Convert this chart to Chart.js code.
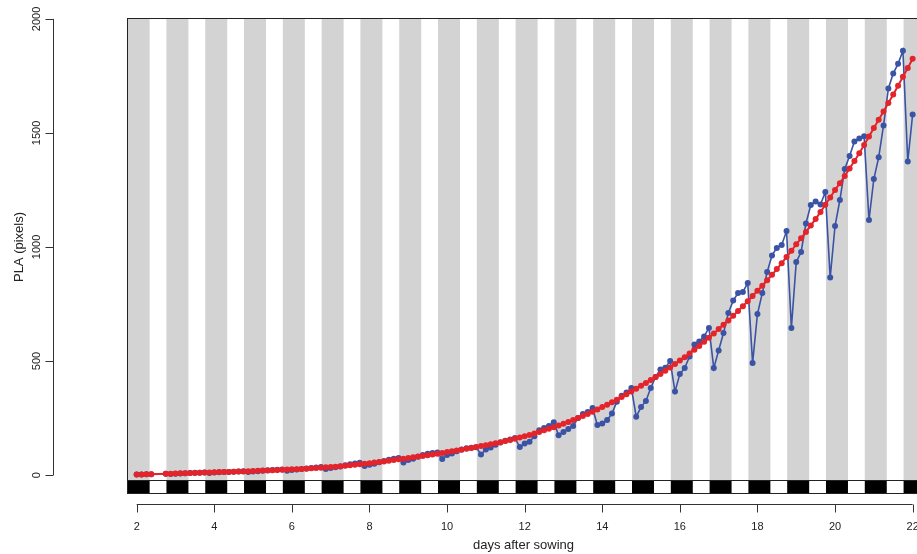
<!DOCTYPE html>
<html>
<head>
<meta charset="utf-8">
<title>PLA growth</title>
<script src="https://cdn.jsdelivr.net/npm/chart.js@4"></script>
<style>
  html, body { margin: 0; padding: 0; overflow: hidden; background: #fff; }
  #wrap { width: 924px; height: 554px; }
</style>
</head>
<body>
<div id="wrap"><canvas id="pla"></canvas></div>
<script>
// sampling: one image every 3 h, starting at day 2 (null = no image)
const startDay = 2;
const stepDays = 3 / 24;

// measured projected leaf area, one row per day (8 images)
const measuredPLA = [
  3, 3, 4, 4, null, null, 6, 5,
  6, 7, 8, 9, 10, 10, 11, 9,
  11, 12, 13, 14, 15, 16, 17, 14,
  16, 17, 19, 21, 22, 23, 24, 19,
  22, 24, 27, 29, 31, 33, 35, 27,
  31, 34, 38, 43, 47, 51, 54, 40,
  45, 50, 56, 62, 67, 72, 75, 55,
  66, 72, 80, 88, 94, 97, 99, 70,
  88, 95, 104, 112, 118, 120, 122, 90,
  112, 121, 133, 143, 150, 156, 162, 123,
  138, 146, 170, 196, 206, 215, 232, 175,
  189, 202, 215, 250, 268, 276, 294, 219,
  226, 241, 270, 322, 348, 362, 382, 256,
  298, 325, 382, 430, 463, 471, 500, 366,
  443, 469, 520, 572, 586, 608, 645, 469,
  546, 623, 711, 765, 798, 803, 842, 491,
  706, 798, 890, 963, 996, 1009, 1070, 645,
  934, 978, 1103, 1184, 1200, 1186, 1241, 866,
  1092, 1206, 1342, 1399, 1463, 1476, 1485, 1118,
  1298, 1393, 1533, 1695, 1761, 1803, 1860, 1375,
  1581
];

// fitted growth curve at the same times
const fittedPLA = [
  3, 3, 4, 4, null, null, 6, 6,
  7, 8, 8, 9, 9, 10, 11, 11,
  12, 13, 13, 14, 15, 16, 16, 17,
  18, 19, 20, 20, 21, 22, 23, 24,
  25, 26, 27, 28, 30, 31, 32, 34,
  35, 37, 39, 41, 43, 45, 47, 50,
  52, 55, 57, 60, 63, 66, 69, 72,
  75, 78, 81, 84, 87, 90, 94, 97,
  101, 104, 108, 111, 115, 119, 123, 127,
  131, 135, 140, 144, 149, 154, 159, 165,
  170, 176, 182, 189, 196, 203, 210, 217,
  225, 233, 241, 250, 259, 268, 278, 288,
  298, 308, 319, 330, 342, 354, 366, 379,
  392, 404, 417, 430, 443, 457, 472, 487,
  502, 517, 533, 550, 566, 584, 602, 621,
  640, 659, 678, 698, 719, 740, 762, 785,
  808, 830, 854, 878, 903, 929, 956, 983,
  1012, 1038, 1066, 1094, 1123, 1153, 1185, 1217,
  1250, 1280, 1311, 1344, 1377, 1411, 1447, 1484,
  1522, 1558, 1594, 1631, 1669, 1707, 1746, 1785,
  1825
];

const xTicks = [2, 4, 6, 8, 10, 12, 14, 16, 18, 20, 22];
const yTicks = [0, 500, 1000, 1500, 2000];

// light regime (hour of day)
const lightsOffHour = 18.4;
const lightsOnHour = 8.0;

const toPoints = vals => vals.map((v, i) => ({ x: startDay + i * stepDays, y: v }));

Chart.defaults.font.family = "'Liberation Sans', Arial, sans-serif";
Chart.defaults.color = '#222';

const rStyle = {
  id: 'rStyle',
  beforeDatasetsDraw(chart) {
    const { ctx, chartArea: a, scales: { x } } = chart;
    const barTop = a.bottom - 14;
    ctx.save();
    for (let d = Math.floor(x.min); d <= Math.ceil(x.max) + 1; d++) {
      const x0 = Math.max(a.left, x.getPixelForValue(d - 1 + lightsOffHour / 24));
      const x1 = Math.min(a.right, x.getPixelForValue(d + lightsOnHour / 24));
      if (x1 <= x0) continue;
      ctx.fillStyle = '#d3d3d3';
      ctx.fillRect(x0, a.top, x1 - x0, barTop - a.top);
      ctx.fillStyle = '#000';
      ctx.fillRect(x0, barTop, x1 - x0, a.bottom - barTop);
    }
    ctx.strokeStyle = '#222';
    ctx.lineWidth = 1;
    ctx.beginPath();
    ctx.moveTo(a.left, barTop + 0.5);
    ctx.lineTo(a.right, barTop + 0.5);
    ctx.stroke();
    ctx.strokeRect(a.left + 0.5, a.top + 0.5, a.right - a.left + 10, a.bottom - a.top - 1);
    ctx.restore();
  },
  afterDraw(chart) {
    const { ctx, chartArea: a, scales: { x, y } } = chart;
    ctx.save();
    ctx.strokeStyle = '#333';
    ctx.fillStyle = '#222';
    ctx.lineWidth = 1;

    // y axis, detached to the left
    const ax = 53.5;
    const yLo = y.getPixelForValue(yTicks[0]);
    const yHi = y.getPixelForValue(yTicks[yTicks.length - 1]);
    ctx.beginPath();
    ctx.moveTo(ax, yLo);
    ctx.lineTo(ax, yHi);
    yTicks.forEach(v => {
      const py = Math.round(y.getPixelForValue(v)) + 0.5;
      ctx.moveTo(ax, py);
      ctx.lineTo(ax - 8, py);
    });
    ctx.stroke();
    ctx.font = "11px 'Liberation Sans', Arial, sans-serif";
    ctx.textAlign = 'center';
    ctx.textBaseline = 'middle';
    yTicks.forEach(v => {
      ctx.save();
      ctx.translate(37, y.getPixelForValue(v));
      ctx.rotate(-Math.PI / 2);
      ctx.fillText(String(v), 0, 0);
      ctx.restore();
    });
    ctx.font = "13px 'Liberation Sans', Arial, sans-serif";
    ctx.save();
    ctx.translate(19, (yLo + yHi) / 2);
    ctx.rotate(-Math.PI / 2);
    ctx.fillText('PLA (pixels)', 0, 0);
    ctx.restore();

    // x axis line, below the light bar
    const ay = a.bottom + 10.5;
    ctx.beginPath();
    ctx.moveTo(x.getPixelForValue(xTicks[0]), ay);
    ctx.lineTo(x.getPixelForValue(xTicks[xTicks.length - 1]), ay);
    xTicks.forEach(v => {
      const px = Math.round(x.getPixelForValue(v)) + 0.5;
      ctx.moveTo(px, ay);
      ctx.lineTo(px, ay + 8);
    });
    ctx.stroke();
    ctx.restore();
  }
};

new Chart(document.getElementById('pla'), {
  type: 'line',
  data: {
    datasets: [
      {
        label: 'fitted',
        data: toPoints(fittedPLA),
        borderColor: '#e3242b',
        backgroundColor: '#e3242b',
        borderWidth: 2,
        pointRadius: 3,
        pointBorderWidth: 0,
        spanGaps: true
      },
      {
        label: 'measured',
        data: toPoints(measuredPLA),
        borderColor: '#3a53a4',
        backgroundColor: '#3a53a4',
        borderWidth: 1.6,
        pointRadius: 3,
        pointBorderWidth: 0,
        spanGaps: true
      }
    ]
  },
  options: {
    responsive: true,
    maintainAspectRatio: false,
    animation: false,
    layout: { padding: { left: 127, top: 18, right: 0, bottom: 0 } },
    plugins: { legend: { display: false }, tooltip: { enabled: false } },
    scales: {
      x: {
        type: 'linear',
        min: 1.75,
        max: 22.19,
        grid: { display: false, drawTicks: false },
        border: { display: false },
        afterBuildTicks: s => { s.ticks = xTicks.map(v => ({ value: v })); },
        afterFit: s => {
          s.height = 60;
          s.paddingLeft = 0;
          s.paddingRight = 0;
        },
        ticks: {
          autoSkip: false,
          maxRotation: 0,
          padding: 26,
          font: { size: 11 }
        },
        title: {
          display: true,
          text: 'days after sowing',
          font: { size: 13 },
          padding: { top: 0, bottom: 1 }
        }
      },
      y: {
        display: false,
        min: -83,
        max: 2004
      }
    }
  },
  plugins: [rStyle]
});
</script>
</body>
</html>
